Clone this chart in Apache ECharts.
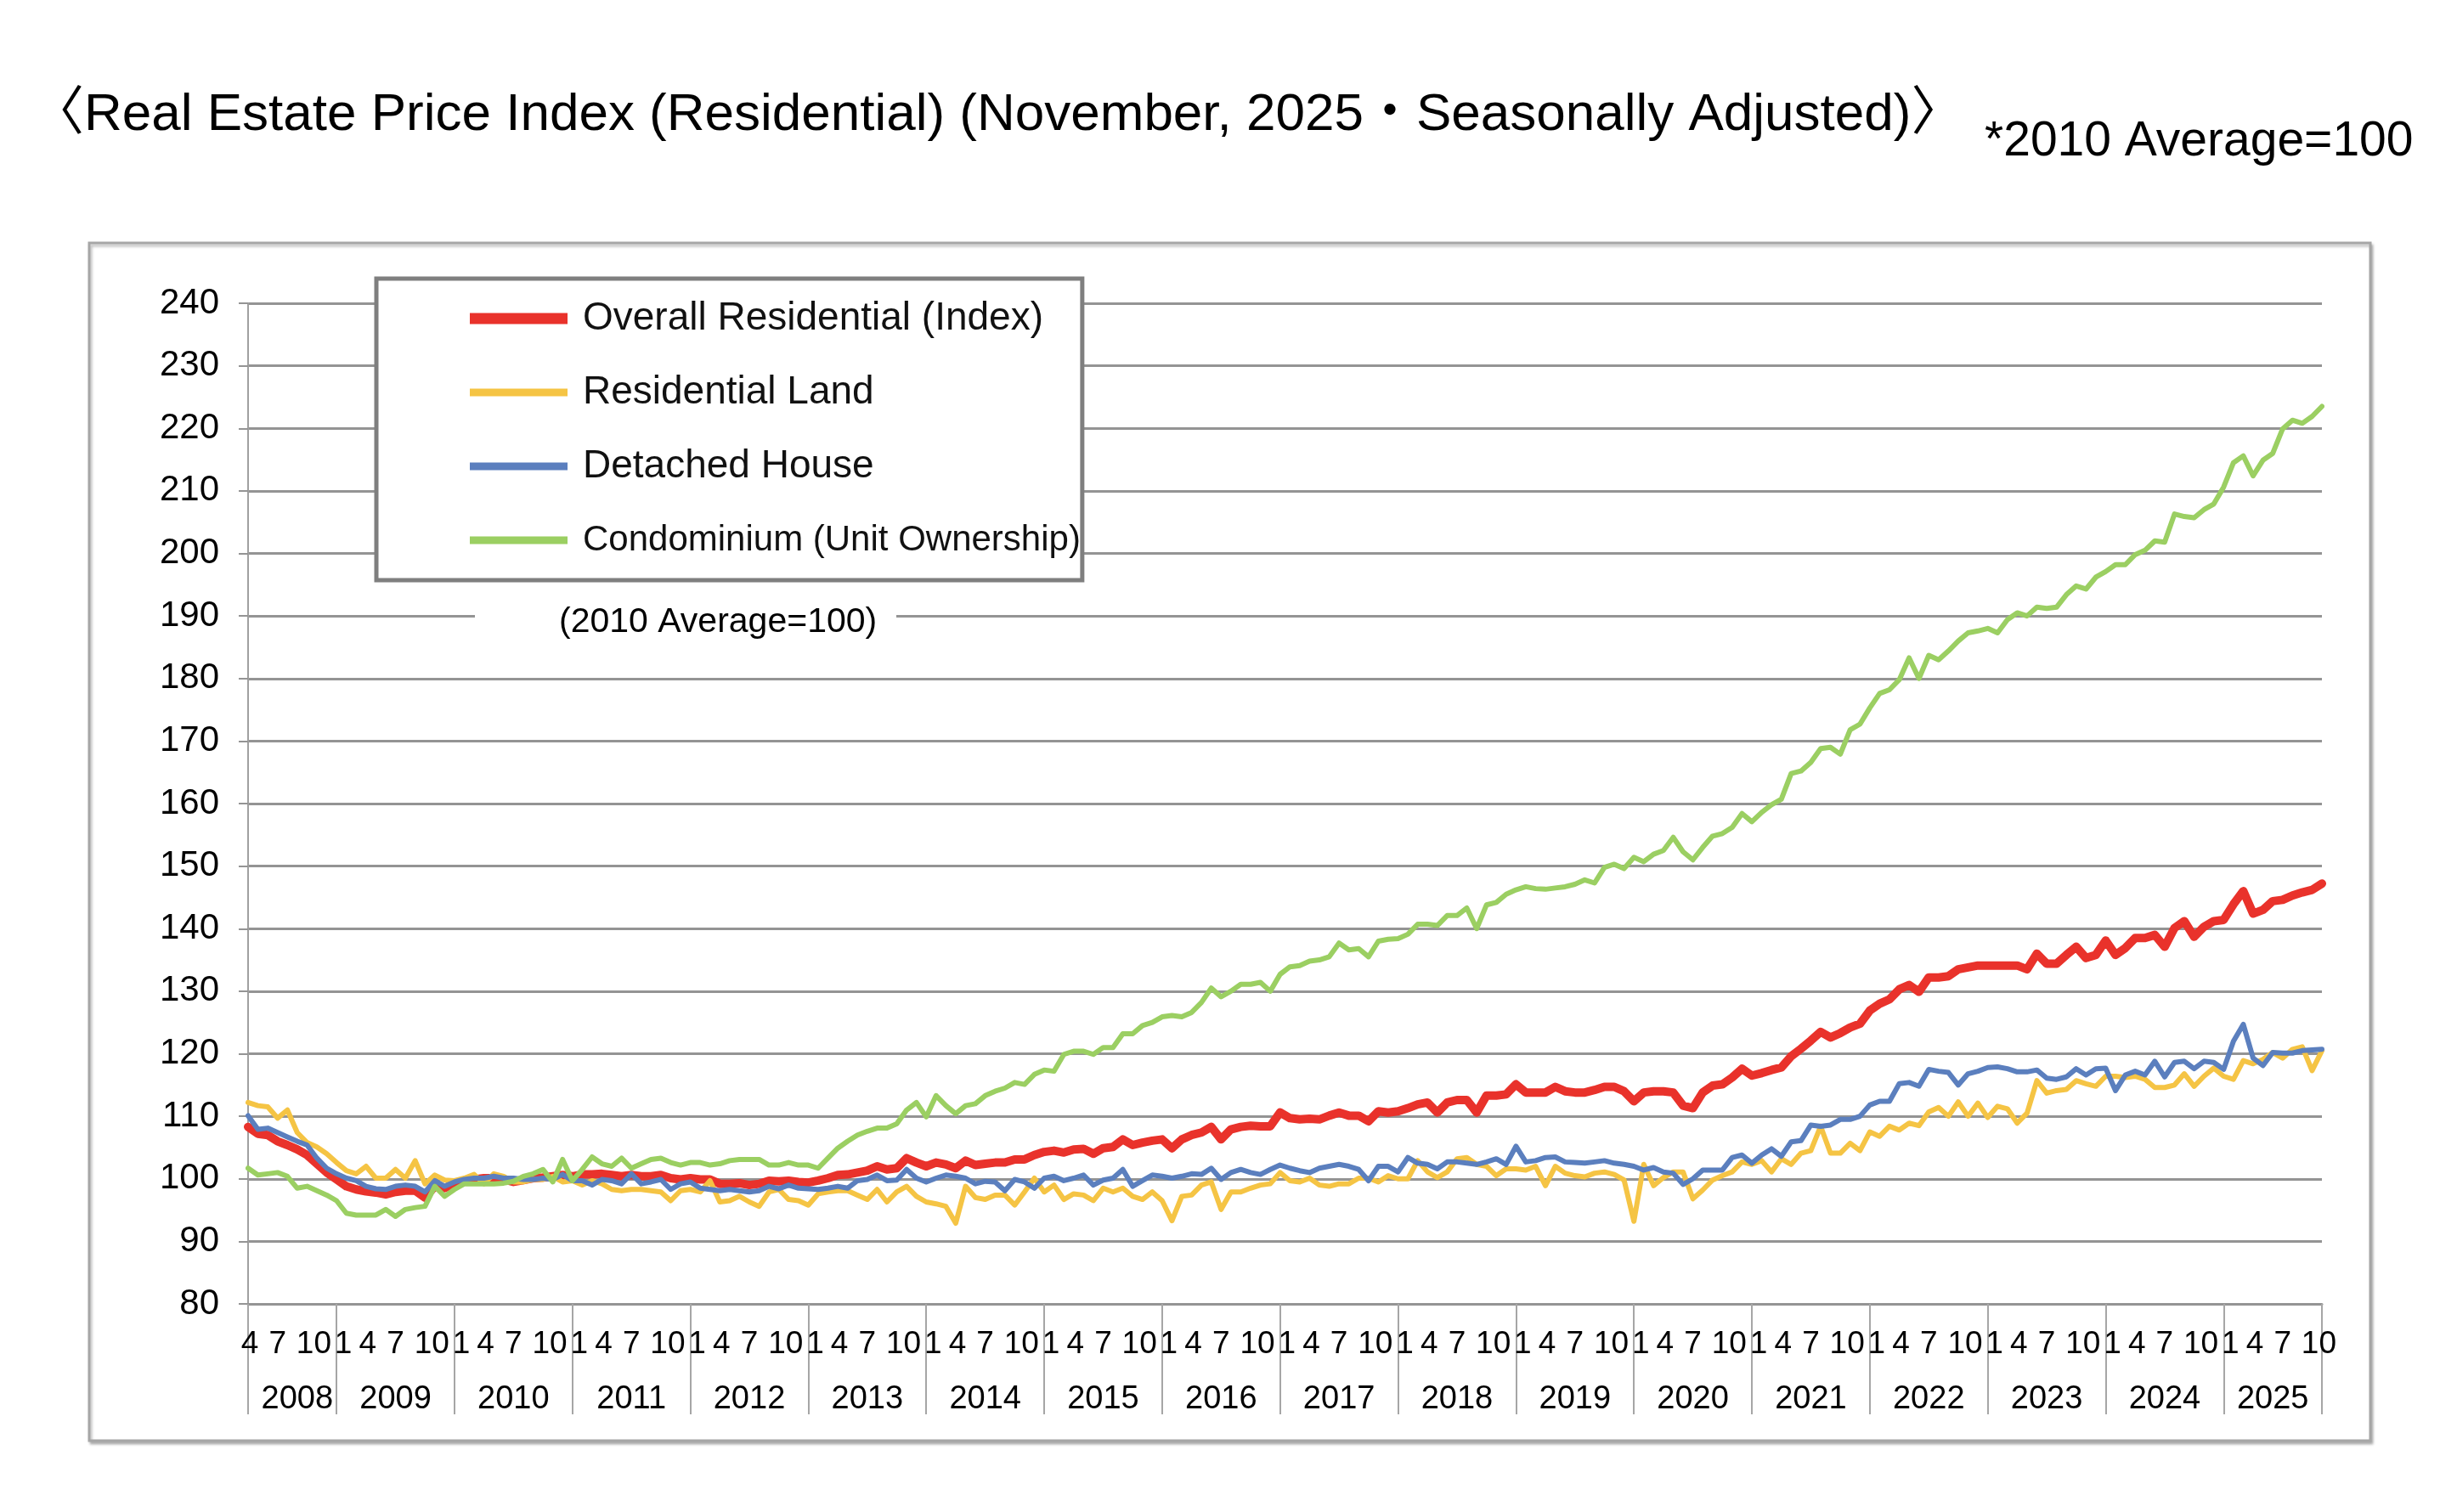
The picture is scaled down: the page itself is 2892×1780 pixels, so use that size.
<!DOCTYPE html>
<html>
<head>
<meta charset="utf-8">
<script src="https://cdn.jsdelivr.net/npm/echarts@6/dist/echarts.min.js"></script>
<style>
html,body{margin:0;padding:0;background:#fff;}
#chart{width:2892px;height:1780px;}
</style>
</head>
<body>
<div id="chart"></div>
<script>
// ---- Data (monthly, April 2008 - November 2025, 2010 average = 100) ----
const startYear = 2008;
const startMonth = 4;

const seriesNames = [
  "Overall Residential (Index)",
  "Residential Land",
  "Detached House",
  "Condominium (Unit Ownership)"
];

const overallIndex = [
  108.3,107.2,107.0,106.0,105.4,104.7,103.8,102.4,101.0,
  99.9,98.8,98.3,98.0,97.8,97.5,97.9,98.1,98.1,97.0,98.8,98.5,
  99.2,99.7,99.9,100.1,100.1,99.9,99.5,99.8,100.1,100.2,100.4,100.6,
  100.4,100.7,100.7,100.8,100.6,100.4,100.6,100.4,100.4,100.6,100.1,99.9,
  100.1,99.9,99.9,99.2,99.2,99.3,99.0,99.2,99.7,99.6,99.7,99.5,
  99.4,99.7,100.1,100.6,100.7,101.0,101.3,102.0,101.5,101.7,103.3,102.6,
  102.0,102.6,102.3,101.7,102.9,102.2,102.4,102.6,102.6,103.1,103.1,103.8,
  104.3,104.5,104.2,104.7,104.8,104.0,104.9,105.1,106.3,105.4,105.8,106.1,
  106.3,104.9,106.3,107.0,107.4,108.3,106.3,107.9,108.3,108.5,108.4,108.4,
  110.6,109.7,109.5,109.6,109.5,110.1,110.6,110.1,110.1,109.2,110.8,110.6,
  110.8,111.3,111.9,112.2,110.6,112.2,112.6,112.6,110.6,113.3,113.3,113.5,
  115.1,113.8,113.8,113.8,114.7,114.0,113.8,113.8,114.2,114.7,114.7,114.0,
  112.4,113.8,114.0,114.0,113.8,111.7,111.3,113.8,114.9,115.1,116.2,117.6,
  116.5,116.9,117.4,117.8,119.6,120.8,122.1,123.5,122.6,123.3,124.2,124.8,
  126.9,128.0,128.7,130.3,131.0,129.9,132.2,132.2,132.4,133.5,133.8,134.1,
  134.1,134.1,134.1,134.1,133.5,136.0,134.4,134.4,135.8,137.1,135.3,135.8,
  138.1,135.8,136.9,138.5,138.5,139.0,137.1,140.1,141.2,138.7,140.3,141.2,
  141.4,143.9,146.0,142.4,143.0,144.4,144.6,145.3,145.8,146.2,147.2
];

const residentialLand = [
  112.2,111.7,111.5,109.7,111.0,107.4,105.8,105.1,104.0,
  102.6,101.3,100.8,102.0,100.1,100.1,101.5,100.1,102.9,99.2,100.6,99.8,
  99.7,100.1,100.7,99.2,100.8,100.4,99.5,99.5,99.9,99.9,100.4,99.5,
  99.7,99.0,99.7,99.2,98.3,98.1,98.3,98.3,98.1,97.9,96.5,98.1,
  98.3,97.9,99.7,96.3,96.5,97.2,96.3,95.6,97.9,98.3,96.7,96.5,
  95.8,97.6,97.9,98.1,98.1,97.4,96.7,98.3,96.3,97.9,98.8,97.2,
  96.3,96.0,95.6,92.9,98.8,97.0,96.7,97.4,97.4,95.8,97.9,100.1,
  97.9,99.0,96.7,97.6,97.4,96.5,98.5,97.9,98.5,97.2,96.7,97.9,
  96.5,93.3,97.2,97.4,99.0,99.5,95.1,97.9,97.9,98.5,99.0,99.2,
  101.0,99.7,99.5,100.1,99.0,98.8,99.2,99.2,100.1,100.1,99.5,100.5,
  100.0,100.0,102.9,101.1,100.2,101.1,103.2,103.4,102.3,102.0,100.5,101.6,
  101.6,101.4,102.0,98.9,102.0,100.9,100.5,100.3,100.9,101.1,100.7,99.8,
  93.2,102.3,98.9,100.2,101.1,101.1,96.8,98.2,99.8,100.5,101.1,102.7,
  102.3,102.9,101.1,103.2,102.3,104.1,104.5,108.4,104.1,104.1,105.7,104.5,
  107.5,106.8,108.4,107.8,108.9,108.5,110.7,111.4,110.0,112.3,110.0,112.1,
  109.8,111.6,111.2,108.9,110.5,115.7,113.7,114.1,114.3,115.7,115.2,114.8,
  116.4,116.4,116.2,116.4,115.9,114.6,114.6,115.0,116.8,114.8,116.4,117.7,
  116.4,115.9,118.9,118.4,119.1,120.2,119.3,120.7,121.1,117.3,120.5
];

const detachedHouse = [
  110.1,107.9,108.1,107.4,106.7,106.0,105.4,103.3,101.7,
  100.8,100.1,99.7,98.8,98.4,98.3,98.8,99.0,98.8,97.9,99.7,98.8,
  99.5,99.9,100.1,100.1,100.4,100.1,100.1,99.9,99.9,100.1,99.9,100.7,
  99.7,99.7,99.0,99.9,99.7,99.2,100.8,99.2,99.5,99.9,98.3,99.2,
  99.5,98.5,98.3,98.1,98.3,98.1,97.9,98.1,98.8,98.4,99.0,98.5,
  98.4,98.3,98.5,98.8,98.5,99.7,99.9,100.6,99.7,99.8,101.5,100.1,
  99.5,100.1,100.6,100.4,100.1,99.2,99.6,99.5,98.1,99.9,99.5,98.5,
  100.1,100.4,99.7,100.1,100.6,99.0,99.8,100.1,101.5,98.8,99.7,100.6,
  100.4,100.1,100.4,100.8,100.7,101.7,99.9,101.0,101.5,101.0,100.7,101.5,
  102.2,101.7,101.3,101.0,101.7,102.0,102.3,102.0,101.5,99.7,102.0,102.0,
  101.1,103.4,102.5,102.3,101.6,102.7,102.7,102.5,102.3,102.7,103.2,102.3,
  105.2,102.7,102.9,103.4,103.5,102.7,102.6,102.5,102.7,102.9,102.5,102.3,
  102.0,101.4,101.8,101.1,100.9,99.1,100.0,101.4,101.4,101.4,103.4,103.8,
  102.5,103.8,104.8,103.6,105.9,106.1,108.6,108.4,108.6,109.5,109.5,110.0,
  111.8,112.4,112.4,115.2,115.4,114.8,117.5,117.2,117.0,115.0,116.8,117.2,
  117.8,117.9,117.6,117.1,117.1,117.4,116.1,115.9,116.3,117.6,116.6,117.6,
  117.7,114.1,116.6,117.2,116.6,118.8,116.3,118.6,118.8,117.6,118.8,118.6,
  117.5,122.0,124.7,119.3,118.1,120.2,120.1,120.1,120.5,120.6,120.7
];

const condominium = [
  101.7,100.6,100.8,101.0,100.4,98.5,98.8,98.1,97.4,
  96.5,94.5,94.2,94.2,94.2,95.1,94.0,95.1,95.4,95.6,98.8,97.2,
  98.3,99.2,99.2,99.2,99.2,99.3,99.6,100.4,100.8,101.5,99.5,103.1,
  99.7,101.5,103.5,102.4,102.0,103.3,101.7,102.4,103.1,103.3,102.6,102.2,
  102.6,102.6,102.2,102.4,102.9,103.1,103.1,103.1,102.2,102.2,102.6,102.2,
  102.2,101.7,103.3,104.9,106.0,107.0,107.6,108.1,108.1,108.8,111.0,112.2,
  109.9,113.3,111.7,110.4,111.7,112.0,113.3,114.0,114.5,115.4,115.1,116.7,
  117.4,117.2,119.9,120.4,120.4,119.9,121.0,121.0,123.2,123.2,124.5,125.0,
  125.9,126.1,125.9,126.6,128.2,130.5,129.1,130.0,131.1,131.1,131.4,130.0,
  132.7,133.9,134.1,134.8,135.0,135.5,137.7,136.6,136.8,135.5,138.0,138.3,
  138.4,139.1,140.7,140.7,140.5,142.1,142.1,143.3,140.0,143.8,144.2,145.5,
  146.2,146.7,146.4,146.3,146.5,146.7,147.1,147.8,147.3,149.8,150.3,149.6,
  151.4,150.7,151.9,152.5,154.6,152.3,151.0,153.0,154.8,155.2,156.2,158.4,
  157.1,158.6,159.8,160.7,164.8,165.2,166.6,168.8,169.0,167.9,171.8,172.7,
  175.3,177.6,178.2,179.8,183.3,180.0,183.7,183.0,184.4,186.0,187.3,187.6,
  188.0,187.3,189.4,190.5,190.0,191.4,191.2,191.4,193.4,194.8,194.3,196.2,
  197.1,198.2,198.2,199.8,200.5,202.0,201.8,206.3,205.9,205.7,207.0,207.9,
  210.6,214.5,215.6,212.4,214.9,216.0,219.9,221.3,220.8,221.9,223.5
];

const monthTickLabels = [1, 4, 7, 10];
const yMin = 80, yMax = 240, yStep = 10;

// ---- Categories (year-month) ----
const categories = [];
for (let i = 0; i < overallIndex.length; i++) {
  const t = (startMonth - 1) + i;
  const y = startYear + Math.floor(t / 12);
  const m = (t % 12) + 1;
  categories.push(y + "-" + String(m).padStart(2, "0"));
}
const lastIdx = categories.length - 1;
const monthOf = v => +v.slice(5);

// year label at centre of each year's span
const yearStart = {};
categories.forEach((c, i) => { const y = c.slice(0, 4); if (!(y in yearStart)) yearStart[y] = i; });
const yearList = Object.keys(yearStart);
const yearCenter = {};
yearList.forEach((y, k) => {
  const s = yearStart[y];
  const e = k < yearList.length - 1 ? yearStart[yearList[k + 1]] : lastIdx;
  yearCenter[Math.round((s + e) / 2)] = y;
});

const AXISFONT = "'Liberation Sans Narrow', 'Liberation Sans', Arial, sans-serif";
const SANS = "'Liberation Sans', Arial, 'Noto Sans CJK JP', sans-serif";

const colors = ["#e9322b", "#f5c444", "#5b7fbe", "#9bcf62"];
const widths = [10, 6, 6, 6];
const allData = [overallIndex, residentialLand, detachedHouse, condominium];

const monthRichKey = { 1: "j", 4: "f", 7: "s", 10: "o" };

const chart = echarts.init(document.getElementById("chart"), null, { renderer: "canvas" });

chart.setOption({
  animation: false,
  backgroundColor: "#fff",
  color: colors,
  grid: { left: 292, right: 159, top: 357, bottom: 245, containLabel: false },
  legend: {
    orient: "vertical",
    left: 443,
    top: 328,
    padding: [22, 2, 22, 110],
    itemWidth: 115,
    itemHeight: 14,
    itemGap: 37,
    itemTextGap: 19,
    symbolKeepAspect: true,
    borderColor: "#7f7f7f",
    borderWidth: 5,
    backgroundColor: "#fff",
    formatter: name => (name === seriesNames[3] ? "{c|" + name + "}" : "{a|" + name + "}"),
    textStyle: {
      fontSize: 46, fontFamily: SANS, color: "#111", lineHeight: 50,
      rich: {
        a: { fontSize: 46, fontFamily: SANS, color: "#111", lineHeight: 50, padding: [0, 0, 0, 13] },
        c: { fontSize: 42, fontFamily: SANS, color: "#111", lineHeight: 50, padding: [0, 0, 0, 13] }
      }
    },
    data: seriesNames.map((n, i) => ({
      name: n,
      icon: i === 0 ? "path://M0,0H115V13H0Z" : "path://M0,0H115V9H0Z",
      itemStyle: { color: colors[i] }
    }))
  },
  xAxis: [
    {
      type: "category",
      data: categories,
      boundaryGap: false,
      axisLine: { show: true, lineStyle: { color: "#949494", width: 3 } },
      axisTick: {
        show: true,
        length: 130,
        interval: (i, v) => i === 0 || i === lastIdx || monthOf(v) === 1,
        lineStyle: { color: "#a6a6a6", width: 2 }
      },
      axisLabel: {
        interval: (i, v) => monthTickLabels.includes(monthOf(v)),
        formatter: v => "{" + monthRichKey[monthOf(v)] + "|" + monthOf(v) + "}",
        margin: 29,
        fontSize: 37,
        fontFamily: AXISFONT,
        color: "#000",
        rich: {
          j: { fontSize: 37, fontFamily: AXISFONT, color: "#000", padding: [0, 0, 0, 16] },
          f: { fontSize: 37, fontFamily: AXISFONT, color: "#000", padding: [0, 0, 0, 4] },
          s: { fontSize: 37, fontFamily: AXISFONT, color: "#000", padding: [0, 0, 0, 0] },
          o: { fontSize: 37, fontFamily: AXISFONT, color: "#000", padding: [0, 0, 0, 16] }
        }
      },
      splitLine: { show: false }
    },
    {
      type: "category",
      data: categories,
      boundaryGap: false,
      position: "bottom",
      gridIndex: 0,
      axisLine: { show: false },
      axisTick: { show: false },
      axisLabel: {
        interval: (i) => (i in yearCenter),
        formatter: (v, i) => yearCenter[i] || "",
        margin: 94,
        fontSize: 38,
        fontFamily: AXISFONT,
        color: "#000"
      },
      splitLine: { show: false }
    }
  ],
  yAxis: {
    type: "value",
    min: yMin,
    max: yMax,
    interval: yStep,
    axisLine: { show: true, lineStyle: { color: "#a0a0a0", width: 2 } },
    axisTick: { show: true, length: 11, lineStyle: { color: "#949494", width: 2 } },
    axisLabel: { margin: 34, fontSize: 42, fontFamily: AXISFONT, color: "#000" },
    splitLine: { show: true, lineStyle: { color: "#949494", width: 3 } }
  },
  series: seriesNames.map((n, i) => ({
    name: n,
    type: "line",
    xAxisIndex: 0,
    data: allData[i],
    symbol: "none",
    smooth: false,
    lineStyle: { width: widths[i], color: colors[i], cap: "round", join: "round" },
    itemStyle: { color: colors[i] },
    emphasis: { disabled: true }
  })),
  graphic: [
    {
      type: "rect", z: -10, silent: true,
      shape: { x: 105, y: 286, width: 2685, height: 1410 },
      style: { fill: "#fff", stroke: "#a6a6a6", lineWidth: 3,
               shadowBlur: 3, shadowColor: "rgba(0,0,0,0.25)", shadowOffsetX: 2, shadowOffsetY: 3 }
    },
    {
      type: "text", x: 37, y: 136, z: 20, silent: true,
      style: { text: "〈Real Estate Price Index (Residential) (November, 2025・Seasonally Adjusted)〉",
               fontSize: 62, fontFamily: SANS, fill: "#000", verticalAlign: "middle", align: "left" }
    },
    {
      type: "text", x: 2336, y: 167, z: 20, silent: true,
      style: { text: "*2010 Average=100", fontSize: 57, fontFamily: SANS, fill: "#000",
               verticalAlign: "middle", align: "left" }
    },
    {
      type: "rect", z: 10, silent: true,
      shape: { x: 559, y: 708, width: 496, height: 50 },
      style: { fill: "#fff" }
    },
    {
      type: "text", x: 658, y: 733, z: 11, silent: true,
      style: { text: "(2010 Average=100)", fontSize: 41, fontFamily: SANS, fill: "#000",
               verticalAlign: "middle", align: "left" }
    }
  ]
});
</script>
</body>
</html>
